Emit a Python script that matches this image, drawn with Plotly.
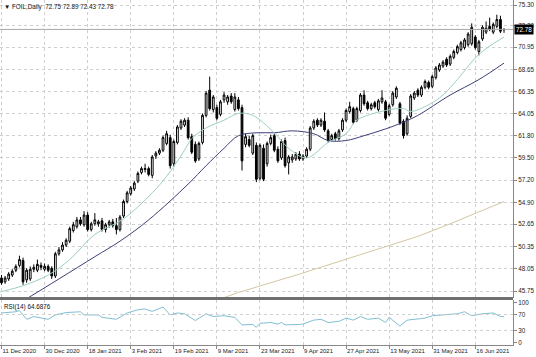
import plotly.graph_objects as go
from plotly.subplots import make_subplots

# ---------------- data ----------------
date_labels = ["11 Dec 2020", "30 Dec 2020", "18 Jan 2021", "3 Feb 2021", "19 Feb 2021",
               "9 Mar 2021", "23 Mar 2021", "9 Apr 2021", "27 Apr 2021", "13 May 2021",
               "31 May 2021", "16 Jun 2021"]
date_bars = [0, 12, 24, 36, 48, 60, 72, 84, 96, 108, 120, 132]

opens = [47.1, 46.7, 47.0, 47.4, 47.9, 48.4, 48.9, 46.9, 47.0, 48.0,
         47.9, 48.4, 48.0, 48.3, 48.1, 47.3, 49.6, 50.0, 50.5, 50.9,
         52.0, 52.4, 53.1, 52.6, 53.6, 52.1, 52.7, 52.7, 53.0, 52.1,
         52.6, 52.9, 52.5, 52.1, 53.5, 55.0, 55.8, 56.3, 57.1, 58.0,
         58.3, 58.4, 57.7, 59.7, 60.0, 60.3, 61.0, 61.6, 58.9, 61.1,
         62.6, 62.9, 63.4, 61.7, 60.9, 59.4, 61.1, 63.9, 66.5, 64.5,
         64.7, 64.0, 65.5, 65.3, 65.9, 64.5, 65.5, 64.7, 60.9, 61.4,
         60.0, 60.8, 57.4, 60.5, 58.9, 61.0, 61.8, 60.4, 59.5, 61.3,
         59.0, 59.3, 59.4, 59.9, 59.4, 59.7, 60.4, 62.6, 63.4, 62.9,
         63.3, 62.3, 61.4, 62.0, 61.5, 62.4, 63.4, 64.3, 64.6, 63.4,
         64.4, 66.0, 65.2, 64.6, 65.2, 64.5, 65.3, 65.3, 64.0, 65.0,
         65.8, 65.1, 63.3, 62.0, 63.8, 65.7, 66.5, 66.0, 66.8, 67.3,
         66.9, 67.8, 68.6, 69.0, 69.7, 69.2, 69.9, 70.4, 70.7, 70.9,
         71.2, 71.3, 72.0, 70.5, 71.8, 72.5, 73.1, 72.5, 73.1, 73.8,
         72.75]
highs = [47.4, 47.3, 47.7, 48.0, 48.5, 49.4, 49.2, 48.1, 48.3, 48.5,
         49.0, 48.7, 48.6, 48.5, 48.3, 49.8, 50.3, 50.8, 51.2, 52.4,
         52.9, 53.4, 53.4, 54.0, 53.9, 52.9, 53.8, 53.1, 53.3, 52.8,
         53.1, 53.2, 53.3, 53.6, 55.2, 56.1, 56.6, 57.1, 58.1, 58.6,
         58.9, 58.6, 59.8, 60.2, 60.5, 61.8, 62.3, 61.9, 61.4, 62.9,
         63.5, 63.6, 63.7, 62.0, 61.2, 61.2, 64.1, 66.4, 67.9, 66.0,
         65.0, 65.5, 66.3, 66.0, 66.2, 66.2, 65.8, 65.0, 62.0, 61.8,
         62.0, 61.1, 61.0, 60.9, 61.2, 61.9, 62.0, 60.7, 61.4, 61.6,
         59.8, 59.9, 60.1, 60.2, 59.9, 60.6, 62.8, 63.5, 63.6, 63.6,
         64.2, 62.5, 62.0, 62.2, 62.5, 63.6, 64.6, 65.3, 64.8, 64.8,
         66.2, 66.5, 65.4, 65.2, 65.4, 65.6, 66.5, 65.5, 65.1, 66.4,
         66.9, 65.3, 63.5, 63.9, 66.1, 66.4, 66.7, 67.0, 67.6, 67.5,
         68.1, 69.0, 69.3, 69.6, 69.9, 70.2, 70.7, 71.2, 71.6, 71.9,
         72.5, 73.4, 72.2, 71.7, 73.2, 73.6, 74.0, 73.5, 74.3, 74.2,
         72.89]
lows = [46.4, 46.5, 46.8, 47.2, 47.7, 48.2, 46.4, 46.6, 46.8, 47.7,
        47.7, 47.9, 47.8, 47.7, 47.0, 47.1, 49.4, 49.8, 50.3, 50.7,
        51.8, 52.2, 52.5, 52.4, 51.9, 51.9, 52.5, 52.4, 51.9, 51.8,
        52.3, 52.3, 51.6, 51.9, 53.3, 54.8, 55.6, 56.1, 56.9, 57.8,
        58.0, 57.6, 57.4, 59.4, 59.8, 60.1, 60.8, 58.4, 58.6, 60.9,
        62.4, 62.7, 61.4, 59.9, 59.0, 59.2, 60.9, 63.7, 64.4, 64.2,
        63.4, 63.8, 65.2, 65.0, 65.1, 64.3, 64.4, 58.2, 60.6, 60.6,
        59.8, 57.0, 57.2, 57.1, 58.6, 60.8, 60.1, 59.0, 59.3, 58.5,
        57.8, 59.0, 59.2, 59.2, 59.2, 59.5, 60.2, 62.4, 62.7, 62.7,
        62.2, 61.1, 61.2, 61.3, 61.3, 62.2, 63.2, 64.1, 63.0, 63.2,
        64.2, 64.9, 64.4, 64.4, 64.6, 64.3, 65.1, 63.4, 63.8, 64.8,
        65.6, 62.9, 61.5, 61.8, 63.6, 65.5, 65.8, 65.8, 66.6, 66.6,
        66.7, 67.6, 68.4, 68.8, 68.9, 69.0, 69.7, 70.2, 70.5, 70.7,
        71.0, 71.1, 70.7, 70.1, 71.6, 72.3, 72.6, 72.3, 72.9, 72.4,
        72.43]
closes = [46.6, 47.1, 47.5, 47.8, 48.3, 49.0, 46.7, 47.9, 48.0, 48.2,
          48.5, 48.2, 48.3, 47.9, 47.3, 49.6, 50.0, 50.5, 51.0, 52.2,
          52.6, 53.1, 52.7, 53.6, 52.1, 52.7, 53.1, 52.9, 52.1, 52.6,
          52.9, 52.5, 52.1, 53.4, 55.0, 55.9, 56.4, 56.9, 57.9, 58.4,
          58.4, 57.8, 59.6, 60.0, 60.3, 61.6, 62.0, 58.7, 61.2, 62.7,
          63.3, 63.4, 61.6, 60.1, 59.2, 61.0, 63.9, 66.2, 64.6, 65.8,
          63.6, 65.3, 66.0, 65.8, 65.3, 65.8, 64.6, 59.2, 61.7, 60.8,
          61.8, 57.3, 60.8, 57.3, 61.0, 61.6, 60.3, 59.2, 61.2, 58.7,
          59.6, 59.6, 59.9, 59.4, 59.7, 60.4, 62.6, 63.3, 62.9, 63.4,
          62.4, 61.3, 61.8, 61.5, 62.3, 63.4, 64.4, 64.8, 63.2, 64.6,
          66.0, 65.1, 64.6, 65.0, 64.8, 65.4, 65.7, 63.6, 64.9, 66.2,
          66.7, 63.1, 61.8, 63.6, 65.9, 66.2, 66.0, 66.8, 67.4, 66.8,
          67.9, 68.8, 69.1, 69.4, 69.1, 70.0, 70.5, 71.0, 71.4, 71.7,
          72.3, 73.0, 70.9, 71.5, 73.0, 72.9, 72.8, 73.3, 73.8, 72.6,
          72.78]

# moving averages, read at sampled bars
ma_fast_bar = [0, 6, 13, 19, 26, 34, 42, 46, 51, 53, 57, 62, 66, 70, 76, 80, 85, 91,
               96, 99, 107, 112, 114, 119, 123, 127, 133, 140]
ma_fast_val = [45.7, 46.3, 47.4, 49.0, 51.6, 53.2, 55.9, 57.6, 60.3, 61.5, 62.6, 63.4,
               64.1, 63.9, 62.1, 60.5, 59.5, 61.1, 62.0, 63.4, 64.4, 64.6, 64.3, 65.0,
               66.0, 67.6, 70.2, 72.0]
ma_mid_bar = [5, 16, 26, 33, 41, 52, 57, 62, 66, 71, 76, 81, 87, 91, 96, 101, 107, 112,
              116, 125, 133, 140]
ma_mid_val = [44.5, 47.0, 49.3, 50.9, 53.1, 56.8, 58.7, 60.5, 61.8, 62.1, 62.1, 62.3,
              62.0, 61.3, 61.3, 61.8, 62.5, 63.2, 63.9, 66.0, 67.6, 69.3]
ma_slow_bar = [58, 66, 83, 99, 116, 125, 140]
ma_slow_val = [44.55, 45.6, 47.5, 49.4, 51.4, 52.7, 55.0]

rsi_bar = [0, 4, 5, 7, 9, 13, 15, 18, 22, 23, 27, 28, 32, 35, 38, 40, 42, 44, 45, 47,
           49, 51, 54, 57, 59, 62, 65, 67, 70, 71, 72, 75, 77, 78, 79, 83, 84, 87, 89, 91,
           94, 96, 98, 100, 102, 105, 107, 108, 111, 113, 118, 120, 123, 127, 129, 131,
           134, 137, 139, 140]
rsi_val = [74, 77, 80, 58, 65, 58, 69, 75, 77, 69, 69, 63, 58, 74, 82, 84, 78, 85, 89, 69,
           74, 72, 55, 72, 65, 67, 63, 44, 45, 38, 48, 50, 46, 50, 44, 45, 46, 56, 58, 50,
           53, 61, 56, 65, 58, 61, 50, 63, 41, 56, 61, 67, 69, 72, 77, 67, 72, 74, 65, 64.69]

price_ticks = [75.30, 73.20, 70.95, 68.65, 66.35, 64.05, 61.80, 59.50, 57.20, 54.90,
               52.65, 50.35, 48.05, 45.75]
rsi_ticks = [100, 70, 30, 0]

last_price = 72.78
title_text = "\u25bc FOIL,Daily  72.75 72.89 72.43 72.78"
rsi_text = "RSI(14) 64.6876"

# ---------------- figure ----------------
FONT = "Liberation Sans"
W, H = 536, 357
ML, MR, MT, MB = 0, 23, 0, 12
ph = H - MT - MB
main_bottom = (ph - 298) / ph
rsi_top = (ph - 300) / ph
sep_y = (ph - 298.6) / ph

fig = make_subplots(rows=2, cols=1, shared_xaxes=True)
bars = list(range(len(opens)))

fig.add_trace(go.Scatter(x=ma_slow_bar, y=ma_slow_val, mode="lines",
                         line=dict(color="#d4c6a0", width=1), hoverinfo="skip"), row=1, col=1)
fig.add_trace(go.Scatter(x=ma_mid_bar, y=ma_mid_val, mode="lines", line_shape="spline",
                         line=dict(color="#3c3f78", width=1), hoverinfo="skip"), row=1, col=1)
fig.add_trace(go.Scatter(x=ma_fast_bar, y=ma_fast_val, mode="lines", line_shape="spline",
                         line=dict(color="#9ccfc4", width=1), hoverinfo="skip"), row=1, col=1)
fig.add_trace(go.Candlestick(
    x=bars, open=opens, high=highs, low=lows, close=closes,
    increasing=dict(line=dict(color="#000000", width=1), fillcolor="#ffffff"),
    decreasing=dict(line=dict(color="#000000", width=1), fillcolor="#000000"),
    whiskerwidth=0, hoverinfo="skip"), row=1, col=1)
fig.add_trace(go.Scatter(x=rsi_bar, y=rsi_val, mode="lines",
                         line=dict(color="#7fbfd4", width=1), hoverinfo="skip"), row=2, col=1)

xr = [-0.42, 142.5]
grid = dict(showgrid=True, gridcolor="#cfcfcf", griddash="dot", gridwidth=1, zeroline=False)
fig.update_layout(
    width=W, height=H, margin=dict(l=ML, r=MR, t=MT, b=MB, autoexpand=False),
    paper_bgcolor="#ffffff", plot_bgcolor="#ffffff", showlegend=False,
    font=dict(family=FONT, size=6.3, color="#222222"),
    hovermode=False,
    xaxis=dict(range=xr, tickvals=date_bars, showticklabels=False, ticks="",
               rangeslider=dict(visible=False), **grid),
    xaxis2=dict(range=xr, tickvals=date_bars, ticktext=date_labels, ticks="outside",
                ticklen=3, tickcolor="#888888", ticklabelposition="outside right",
                tickangle=0, automargin=False,
                showline=True, linecolor="#888888", tickfont=dict(size=6.0),
                rangeslider=dict(visible=False), **grid),
    yaxis=dict(domain=[main_bottom, 1], range=[45.03, 75.82], side="right",
               tickvals=price_ticks, ticktext=[f"{v:.2f}" for v in price_ticks],
               ticks="outside", ticklen=3, tickcolor="#888888", automargin=False,
               showline=True, linecolor="#888888", **grid),
    yaxis2=dict(domain=[0, rsi_top], range=[-6.6, 106.6], side="right",
                tickvals=rsi_ticks, ticks="outside", ticklen=3, tickcolor="#888888",
                automargin=False,
                showline=True, linecolor="#888888", showgrid=False, zeroline=False),
)

shapes = [
    dict(type="line", xref="x", yref="y2", x0=xr[0], x1=xr[1], y0=70, y1=70,
         line=dict(color="#cfcfcf", width=1, dash="dot")),
    dict(type="line", xref="x", yref="y2", x0=xr[0], x1=xr[1], y0=30, y1=30,
         line=dict(color="#cfcfcf", width=1, dash="dot")),
    dict(type="line", xref="paper", yref="y", x0=0, x1=1, y0=last_price, y1=last_price,
         line=dict(color="#a8a8a8", width=1)),
    dict(type="line", xref="paper", yref="paper", x0=0, x1=1, y0=sep_y, y1=sep_y,
         line=dict(color="#707070", width=3)),
]
fig.update_layout(shapes=shapes)

fig.add_annotation(xref="paper", yref="paper", x=0, y=1, xanchor="left", yanchor="top",
                   xshift=2, yshift=-1, showarrow=False, text=title_text,
                   font=dict(size=6.3, color="#111111"))
fig.add_annotation(xref="paper", yref="y2 domain", x=0, y=1, xanchor="left", yanchor="top",
                   xshift=2, yshift=-1, showarrow=False, text=rsi_text,
                   font=dict(size=6.3, color="#111111"))
fig.add_annotation(xref="paper", yref="y", x=1, y=last_price, xanchor="left", yanchor="middle",
                   xshift=1, showarrow=False, text=f"{last_price:.2f}", bgcolor="#000000",
                   borderpad=1, font=dict(size=6.3, color="#ffffff"))

fig.write_html("out.html", config={"displayModeBar": False},
               post_script="document.body.style.margin='0';")
